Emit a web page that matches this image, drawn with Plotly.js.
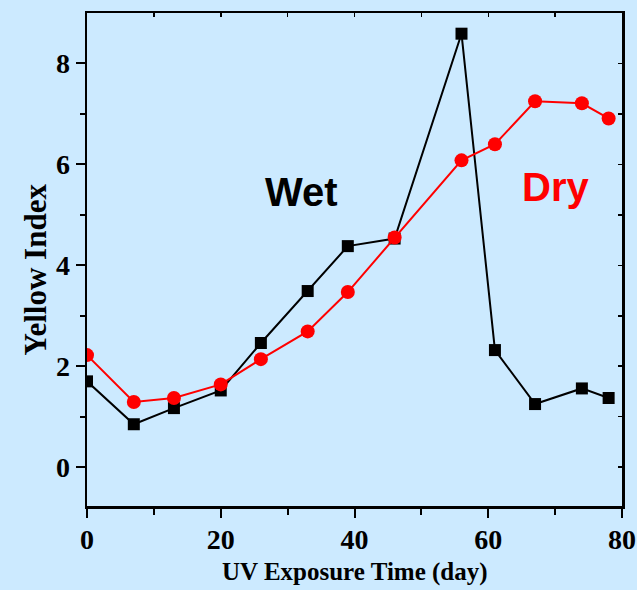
<!DOCTYPE html>
<html>
<head>
<meta charset="utf-8">
<script src="https://cdn.plot.ly/plotly-3.0.1.min.js"></script>
<style>html,body{margin:0;padding:0;background:#cceaff;}</style>
</head>
<body>
<div id="chart" style="width:637px;height:590px;"></div>
<script>
const days = [0, 7, 13, 20, 26, 33, 39, 46, 56, 61, 67, 74, 78];
const wet = [1.70, 0.85, 1.17, 1.52, 2.46, 3.49, 4.38, 4.53, 8.59, 2.32, 1.25, 1.56, 1.37];
const dry = [2.22, 1.29, 1.37, 1.64, 2.14, 2.69, 3.47, 4.55, 6.08, 6.40, 7.25, 7.21, 6.91];
const xTickVals = [0, 20, 40, 60, 80];
const yTickVals = [0, 2, 4, 6, 8];
const xTitle = "UV Exposure Time (day)";
const yTitle = "Yellow Index";
const wetLabel = "Wet";
const dryLabel = "Dry";

const serif = "Liberation Serif, Times New Roman, serif";
const sans = "Liberation Sans, Arial, sans-serif";
const tickFont = {family: serif, size: 28, color: "#000", weight: "bold"};
const xRange = [0, 80];
const yRange = [-0.77, 9.0];

const traces = [
  {x: days, y: wet, mode: "lines+markers", name: wetLabel,
   line: {color: "#000", width: 2}, marker: {symbol: "square", size: 12, color: "#000"}},
  {x: days, y: dry, mode: "lines+markers", name: dryLabel,
   line: {color: "#ff0000", width: 2}, marker: {symbol: "circle", size: 14, color: "#ff0000"}},
  // invisible copy so the mirrored top/right axes are drawn
  {x: days, y: dry, xaxis: "x2", yaxis: "y2", mode: "markers", showlegend: false,
   hoverinfo: "skip", marker: {opacity: 0}}
];

const layout = {
  width: 637, height: 590,
  paper_bgcolor: "#cceaff", plot_bgcolor: "#cceaff",
  margin: {l: 87, r: 15, t: 13, b: 84},
  showlegend: false,
  xaxis: {
    range: xRange, tickvals: xTickVals, showgrid: false, zeroline: false,
    showline: true, linecolor: "#000", linewidth: 2.5,
    ticks: "outside", ticklen: 9, tickwidth: 2, tickcolor: "#000",
    minor: {tickvals: [10, 30, 50, 70], ticks: "outside", ticklen: 6, tickwidth: 2, tickcolor: "#000"},
    tickfont: tickFont, ticklabelstandoff: -2
  },
  yaxis: {
    range: yRange, tickvals: yTickVals, showgrid: false, zeroline: false,
    showline: true, linecolor: "#000", linewidth: 2.5,
    ticks: "outside", ticklen: 9, tickwidth: 2, tickcolor: "#000",
    minor: {tickvals: [1, 3, 5, 7], ticks: "outside", ticklen: 5, tickwidth: 2, tickcolor: "#000"},
    tickfont: tickFont
  },
  xaxis2: {
    overlaying: "x", side: "top", range: xRange, tickvals: [10, 20, 30, 40, 50, 60, 70], showticklabels: false,
    showgrid: false, zeroline: false, showline: true, linecolor: "#000", linewidth: 2.5,
    ticks: "inside", ticklen: 4, tickwidth: 1.5, tickcolor: "#000"
  },
  yaxis2: {
    overlaying: "y", side: "right", range: yRange, tickvals: [0, 1, 2, 3, 4, 5, 6, 7, 8], showticklabels: false,
    showgrid: false, zeroline: false, showline: true, linecolor: "#000", linewidth: 2.5,
    ticks: "inside", ticklen: 4, tickwidth: 1.5, tickcolor: "#000"
  },
  annotations: [
    {x: 0.5, y: -0.134, xref: "paper", yref: "paper", text: xTitle, showarrow: false,
     xanchor: "center", yanchor: "middle",
     font: {family: serif, size: 25, color: "#000", weight: "bold"}},
    {x: -0.097, y: 0.48, xref: "paper", yref: "paper", text: yTitle, textangle: -90, showarrow: false,
     xanchor: "center", yanchor: "middle",
     font: {family: serif, size: 31, color: "#000", weight: "bold"}},
    {x: 32, y: 5.45, xref: "x", yref: "y", text: wetLabel, showarrow: false,
     font: {family: sans, size: 40, color: "#000", weight: "bold"}},
    {x: 70.1, y: 5.55, xref: "x", yref: "y", text: dryLabel, showarrow: false,
     font: {family: sans, size: 40, color: "#ff0000", weight: "bold"}}
  ]
};

Plotly.newPlot("chart", traces, layout, {displayModeBar: false, staticPlot: true});
</script>
</body>
</html>
